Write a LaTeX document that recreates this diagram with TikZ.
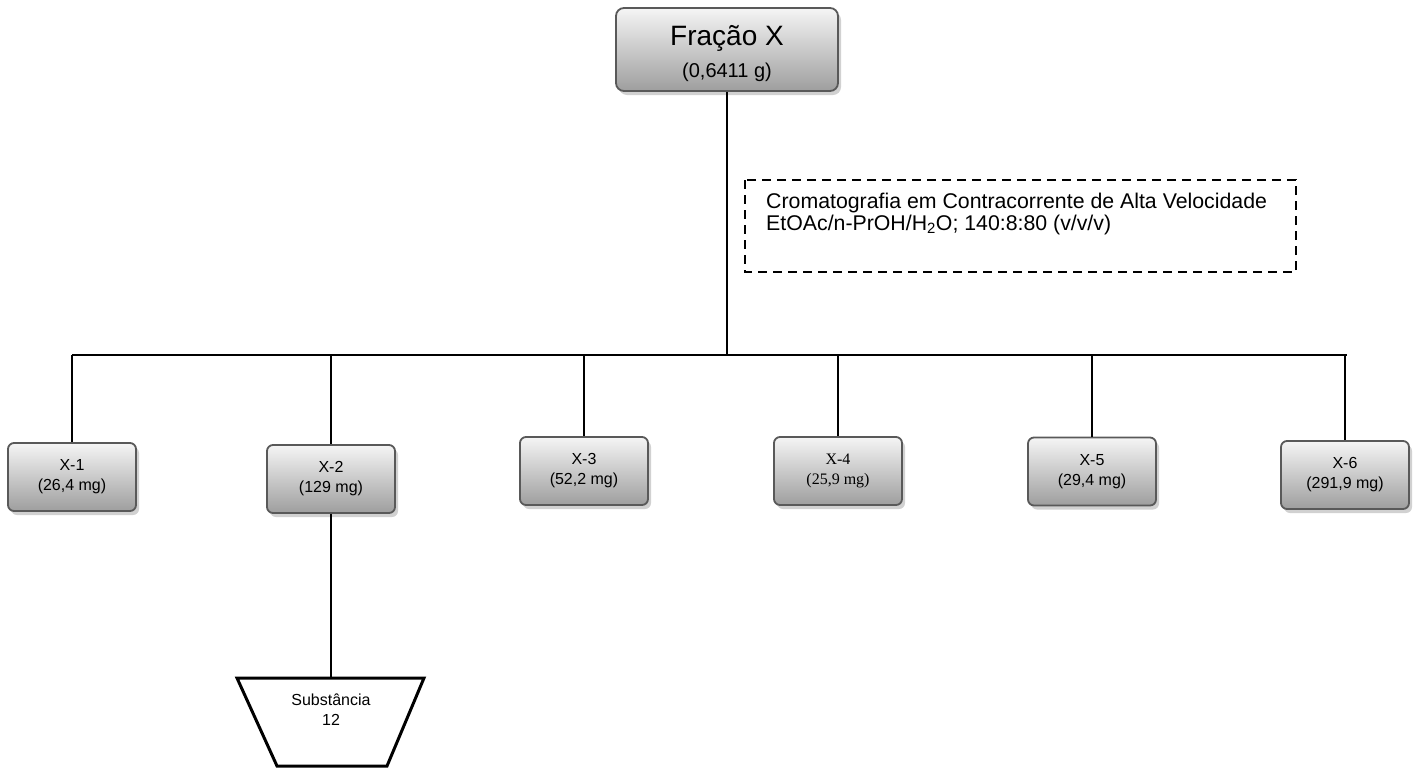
\documentclass[tikz,border=0pt]{standalone}
\usepackage{fontspec}
\setmainfont{Liberation Sans}
\newfontfamily\timesfont{Liberation Serif}
\usetikzlibrary{shadows}
\begin{document}
\begin{tikzpicture}[x=1pt,y=-1pt,
  fracbox/.style={draw=black!65, line width=1.8pt, rounded corners=6pt,
    top color=black!4, bottom color=black!38, align=center,
    drop shadow={shadow xshift=3pt, shadow yshift=-4pt, fill=black!30, opacity=0.6},
    inner sep=0pt, minimum width=128pt, minimum height=68pt,
    font=\fontsize{16}{20}\selectfont},
  conn/.style={line width=1.6pt},
  notebox/.style={draw, line width=2pt, dash pattern=on 9pt off 6pt},
]
\useasboundingbox (0,0) rectangle (1421,769);

% starting fraction: box, then its two-line caption
\node[fracbox, minimum width=222pt, minimum height=83pt, rounded corners=8pt] (top) at (727,49.5) {};
\node[align=center, inner sep=0pt, font=\fontsize{28}{30}\selectfont] (toptext) at (727,54)
  {Fração X\\[2pt]{\fontsize{20}{20}\selectfont (0,6411 g)}};

% chromatography conditions
\draw[notebox] (745,180) rectangle (1296,272);
\node[anchor=north west, align=left, inner sep=0pt,
  font=\fontsize{21.3}{22}\selectfont] (cond) at (766,193)
  {Cromatografia em Contracorrente de Alta Velocidade\\EtOAc/n-PrOH/H\textsubscript{2}O; 140:8:80 (v/v/v)};

% sub-fractions
\node[fracbox] (x1) at (72,477)   {X-1\\(26,4 mg)};
\node[fracbox] (x2) at (331,479)  {X-2\\(129 mg)};
\node[fracbox] (x3) at (584,471)  {X-3\\(52,2 mg)};
\node[fracbox, font=\timesfont\fontsize{16}{20}\selectfont] (x4) at (838,471) {X-4\\(25,9 mg)};
\node[fracbox] (x5) at (1092,471.5) {X-5\\(29,4 mg)};
\node[fracbox] (x6) at (1345,475) {X-6\\(291,9 mg)};

% distribution bus
\coordinate (busL) at (72,355);
\coordinate (busR) at (1347,355);
\coordinate (busM) at (top.south |- busL);
\draw[conn] (top.south) -- (busM);
\draw[conn] (busL) -- (busR);
\foreach \n in {x1,x2,x3,x4,x5,x6}
  \draw[conn] (\n.north |- busL) -- (\n.north);

% isolated compound
\coordinate (tTL) at (237,678);
\coordinate (tTR) at (424,678);
\coordinate (tBR) at (387,766);
\coordinate (tBL) at (277,766);
\coordinate (tTop) at (x2.south |- tTL);
\draw[line width=3pt, line join=miter] (tTL) -- (tTR) -- (tBR) -- (tBL) -- cycle;
\node[align=center, inner sep=0pt, font=\fontsize{16}{20}\selectfont] (s12) at (331,710) {Substância\\12};
\draw[conn] (x2.south) -- (tTop);
\end{tikzpicture}
\end{document}
